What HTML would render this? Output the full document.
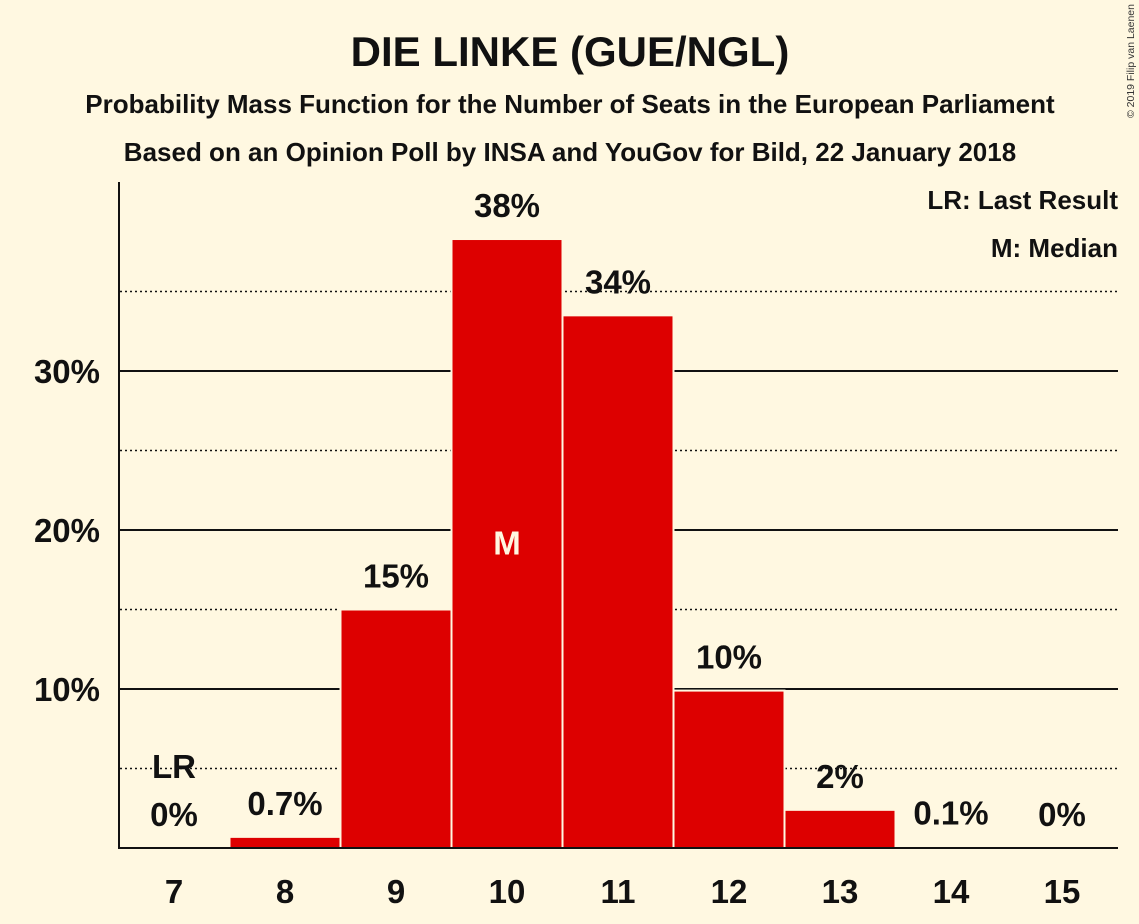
<!DOCTYPE html>
<html><head><meta charset="utf-8"><style>
body{margin:0;background:#fff8e1;}
svg{display:block;font-family:"Liberation Sans",sans-serif;}
</style></head><body>
<svg id="c" width="1139" height="924">
<rect width="1139" height="924" fill="#fff8e1"/>
<text x="570" y="66" text-anchor="middle" font-size="42" font-weight="bold" fill="#111">DIE LINKE (GUE/NGL)</text>
<text x="570" y="113" text-anchor="middle" font-size="26" font-weight="bold" fill="#111">Probability Mass Function for the Number of Seats in the European Parliament</text>
<text x="570" y="161" text-anchor="middle" font-size="26" font-weight="bold" fill="#111">Based on an Opinion Poll by INSA and YouGov for Bild, 22 January 2018</text>
<text transform="translate(1134,118) rotate(-90)" font-size="10.5" fill="#333">© 2019 Filip van Laenen</text>
<text x="1118" y="209" text-anchor="end" font-size="26" font-weight="bold" fill="#111">LR: Last Result</text>
<text x="1118" y="257" text-anchor="end" font-size="26" font-weight="bold" fill="#111">M: Median</text>
<g id="grid"></g><g id="bars"></g><g id="labels"></g>
<line x1="119" y1="182" x2="119" y2="849" stroke="#111" stroke-width="2"/>
<line x1="118" y1="848" x2="1118" y2="848" stroke="#111" stroke-width="2"/>
</svg>
<script>
const seats=[7,8,9,10,11,12,13,14,15];
const probs=[0,0.7,15,38.3,33.5,9.9,2.4,0.1,0];
const valueLabels=["0%","0.7%","15%","38%","34%","10%","2%","0.1%","0%"];
const solidTicks=[10,20,30];
const tickLabels=["10%","20%","30%"];
const dottedTicks=[5,15,25,35];
const lastResult=7, median=10;
const NS="http://www.w3.org/2000/svg";
const y=v=>848-v*15.9;
const xc=s=>174+(s-7)*111;
function mk(t,a,p){const e=document.createElementNS(NS,t);for(const k in a)e.setAttribute(k,a[k]);p.appendChild(e);return e;}
const g=document.getElementById('grid'),b=document.getElementById('bars'),l=document.getElementById('labels');
dottedTicks.forEach(v=>{const e=mk('line',{x1:120,x2:1118,y1:y(v),y2:y(v),stroke:'#111','stroke-width':1.5,'stroke-dasharray':'2,3'},g);

});
solidTicks.forEach((v,i)=>{const e=mk('line',{x1:120,x2:1118,y1:y(v),y2:y(v),stroke:'#111','stroke-width':2},g);


const t=mk('text',{x:100,y:y(v)+12,'text-anchor':'end','font-size':33,'font-weight':'bold',fill:'#111'},g);t.textContent=tickLabels[i];

});
seats.forEach((s,i)=>{
 const p=probs[i];
 if(p>0){const r=mk('rect',{x:xc(s)-55.5,y:y(p),width:111,height:848-y(p),fill:'#dd0000',stroke:'#fff8e1','stroke-width':2},b);
 
 }
 const ly=Math.min(y(p),848)-33+11;
 const t=mk('text',{x:xc(s),y:ly,'text-anchor':'middle','font-size':33,'font-weight':'bold',fill:'#111'},l);t.textContent=valueLabels[i];
 
 
 const xt=mk('text',{x:xc(s),y:903,'text-anchor':'middle','font-size':33,'font-weight':'bold',fill:'#111'},l);xt.textContent=s;
 
 
 if(s===lastResult){const t2=mk('text',{x:xc(s),y:ly-48,'text-anchor':'middle','font-size':33,'font-weight':'bold',fill:'#111'},l);t2.textContent='LR';
 
 }
 if(s===median){const t3=mk('text',{x:xc(s),y:y(p/2)+11,'text-anchor':'middle','font-size':33,'font-weight':'bold',fill:'#fff8e1'},l);t3.textContent='M';
 
 }
});
</script>
</body></html>
